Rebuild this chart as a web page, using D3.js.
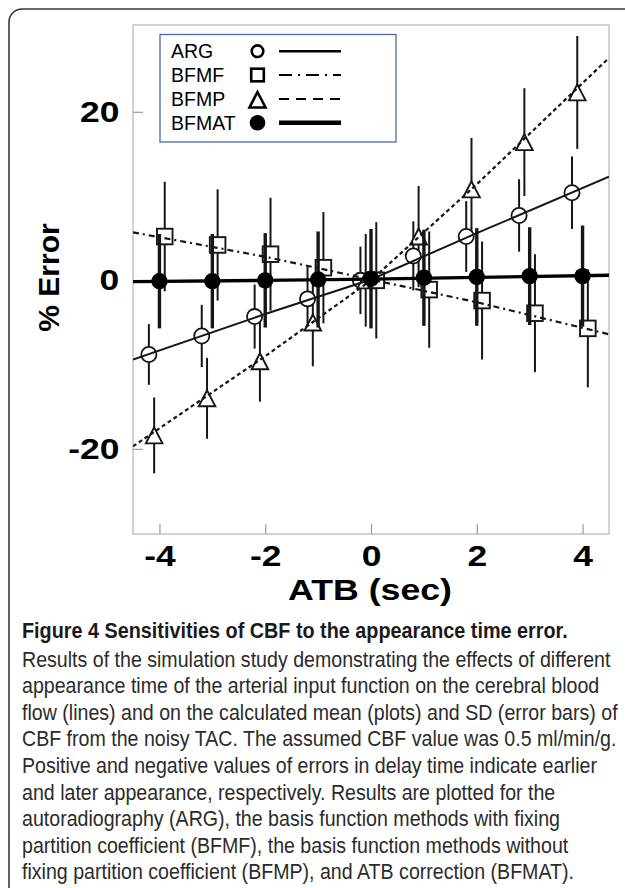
<!DOCTYPE html>
<html><head><meta charset="utf-8">
<script src="https://cdn.jsdelivr.net/npm/d3@7"></script>
<style>body{margin:0;background:#fff}svg{display:block}</style>
</head><body><svg id="c" width="625" height="888"></svg>
<script>
// ---------- data ----------
const xTicks = [-4, -2, 0, 2, 4];
const yTicks = [-20, 0, 20];
const seriesNames = ["ARG", "BFMF", "BFMP", "BFMAT"];

const argX   = [-4.2, -3.2, -2.2, -1.2, -0.2, 0.8, 1.8, 2.8, 3.8];
const argMean = [-8.8, -6.6, -4.3, -2.2, 0.0, 2.9, 5.2, 7.7, 10.4];
const argSD   = [3.6, 3.7, 3.8, 3.8, 4.0, 4.1, 4.2, 4.3, 4.3];

const bfmpX   = [-4.1, -3.1, -2.1, -1.1, -0.1, 0.9, 1.9, 2.9, 3.9];
const bfmpMean = [-18.4, -14.0, -9.6, -5.0, 0.0, 5.2, 10.8, 16.4, 22.3];
const bfmpSD   = [4.5, 4.8, 4.8, 5.2, 5.5, 6.0, 6.1, 6.4, 6.7];

const bfmfX   = [-3.9, -2.9, -1.9, -0.9, 0.1, 1.1, 2.1, 3.1, 4.1];
const bfmfMean = [5.2, 4.2, 3.1, 1.5, 0.0, -1.1, -2.4, -3.9, -5.7];
const bfmfSD   = [6.5, 6.6, 6.7, 6.6, 6.9, 6.9, 7.0, 7.0, 7.0];

const bfmatX   = [-4, -3, -2, -1, 0, 1, 2, 3, 4];
const bfmatMean = [-0.1, -0.1, 0.0, 0.1, 0.2, 0.3, 0.4, 0.5, 0.5];
const bfmatSD   = [5.6, 5.6, 5.6, 5.7, 5.9, 5.7, 5.8, 5.8, 6.0];

// noise-free curves (lines)
const lineX     = [-4.5, -2, 0, 2, 4.5];
const argLine   = [-9.4, -4.0, 0.1, 5.6, 12.3];
const bfmpLine  = [-19.7, -9.0, 0.0, 11.4, 26.4];
const bfmfLine  = [5.7, 2.8, 0.1, -2.6, -6.4];
const bfmatLine = [-0.15, 0.0, 0.15, 0.35, 0.6];

const xTitle = "ATB (sec)";
const yTitle = "% Error";
const captionTitle = "Figure 4 Sensitivities of CBF to the appearance time error.";
const captionLines = [
  "Results of the simulation study demonstrating the effects of different",
  "appearance time of the arterial input function on the cerebral blood",
  "flow (lines) and on the calculated mean (plots) and SD (error bars) of",
  "CBF from the noisy TAC. The assumed CBF value was 0.5 ml/min/g.",
  "Positive and negative values of errors in delay time indicate earlier",
  "and later appearance, respectively. Results are plotted for the",
  "autoradiography (ARG), the basis function methods with fixing",
  "partition coefficient (BFMF), the basis function methods without",
  "fixing partition coefficient (BFMP), and ATB correction (BFMAT)."
];

// ---------- drawing ----------
const svg = d3.select("#c");
const BOLD = "'Liberation Sans', Arial, Helvetica, sans-serif";

// outer rounded panel border
svg.append("rect").attr("x", 9).attr("y", 9).attr("width", 720).attr("height", 1000)
  .attr("rx", 13).attr("fill", "none").attr("stroke", "#3a3a3a").attr("stroke-width", 1.6);

const M = {l: 133, r: 609, t: 25, b: 534};
const x = d3.scaleLinear().domain([-4.5, 4.5]).range([M.l, M.r]);
const y = d3.scaleLinear().domain([-30.1, 30.3]).range([M.b, M.t]);

svg.append("defs").append("clipPath").attr("id", "pc")
  .append("rect").attr("x", M.l).attr("y", M.t).attr("width", M.r - M.l).attr("height", M.b - M.t);

// frame
svg.append("rect").attr("x", M.l).attr("y", M.t).attr("width", M.r - M.l).attr("height", M.b - M.t)
  .attr("fill", "none").attr("stroke", "#c4c4c4").attr("stroke-width", 1.5);

// axes
const SX = 1.18;
const gx = svg.append("g").attr("transform", `translate(0,${M.b})`)
  .call(d3.axisBottom(x).tickValues(xTicks).tickFormat(d => String(d))
    .tickSizeInner(-10).tickSizeOuter(0).tickPadding(11));
gx.select(".domain").remove();
gx.selectAll(".tick line").attr("stroke", "#9a9a9a").attr("stroke-width", 1.2);
gx.selectAll(".tick text").attr("font-family", BOLD).attr("font-weight", "bold")
  .attr("font-size", 30).attr("fill", "#000").attr("transform", `scale(${SX},1)`);

const gy = svg.append("g").attr("transform", `translate(${M.l},0)`)
  .call(d3.axisLeft(y).tickValues(yTicks).tickFormat(d => String(d))
    .tickSizeInner(-10).tickSizeOuter(0).tickPadding(14));
gy.select(".domain").remove();
gy.selectAll(".tick line").attr("stroke", "#9a9a9a").attr("stroke-width", 1.2);
gy.selectAll(".tick text").attr("font-family", BOLD).attr("font-weight", "bold")
  .attr("font-size", 30).attr("fill", "#000").attr("x", -13.7 / SX)
  .attr("transform", `scale(${SX},1)`);

// axis titles
svg.append("g").attr("transform", "translate(370,599.5)")
  .append("text").attr("transform", "scale(1.19,1)").attr("text-anchor", "middle")
  .attr("font-family", BOLD).attr("font-weight", "bold").attr("font-size", 30).text(xTitle);
svg.append("text").attr("transform", "translate(59,277.5) rotate(-90)").attr("text-anchor", "middle")
  .attr("font-family", BOLD).attr("font-weight", "bold").attr("font-size", 30).text(yTitle);

// plot content
const plot = svg.append("g").attr("clip-path", "url(#pc)");
const INK = "#161616";

function errBars(xs, ms, sds, w) {
  plot.append("g").selectAll("line").data(ms).join("line")
    .attr("x1", (d, i) => x(xs[i])).attr("x2", (d, i) => x(xs[i]))
    .attr("y1", (d, i) => y(d - sds[i])).attr("y2", (d, i) => y(d + sds[i]))
    .attr("stroke", INK).attr("stroke-width", w);
}
errBars(argX, argMean, argSD, 2);
errBars(bfmpX, bfmpMean, bfmpSD, 2);
errBars(bfmfX, bfmfMean, bfmfSD, 2);

// open markers
plot.append("g").selectAll("circle").data(argMean).join("circle")
  .attr("cx", (d, i) => x(argX[i])).attr("cy", d => y(d)).attr("r", 7.6)
  .attr("fill", "#fff").attr("stroke", INK).attr("stroke-width", 1.8);
plot.append("g").selectAll("path").data(bfmpMean).join("path")
  .attr("transform", (d, i) => `translate(${x(bfmpX[i])},${y(d)})`)
  .attr("d", "M0,-8L8.3,8L-8.3,8Z")
  .attr("fill", "#fff").attr("stroke", INK).attr("stroke-width", 1.9).attr("stroke-linejoin", "miter");
plot.append("g").selectAll("rect").data(bfmfMean).join("rect")
  .attr("x", (d, i) => x(bfmfX[i]) - 7.8).attr("y", d => y(d) - 7.8)
  .attr("width", 15.6).attr("height", 15.6)
  .attr("fill", "#fff").attr("stroke", INK).attr("stroke-width", 1.9);

// lines
const lineGen = d3.line().x((d, i) => x(lineX[i])).y(d => y(d));
plot.append("path").datum(argLine).attr("d", lineGen).attr("fill", "none")
  .attr("stroke", INK).attr("stroke-width", 2);
plot.append("path").datum(bfmpLine).attr("d", lineGen).attr("fill", "none")
  .attr("stroke", INK).attr("stroke-width", 2.2).attr("stroke-dasharray", "4,3");
plot.append("path").datum(bfmfLine).attr("d", lineGen).attr("fill", "none")
  .attr("stroke", INK).attr("stroke-width", 2.2).attr("stroke-dasharray", "6,4,2,4");
plot.append("path").datum(bfmatLine).attr("d", lineGen).attr("fill", "none")
  .attr("stroke", "#000").attr("stroke-width", 3.4);

// BFMAT on top
errBars(bfmatX, bfmatMean, bfmatSD, 3.4);
plot.append("g").selectAll("circle").data(bfmatMean).join("circle")
  .attr("cx", (d, i) => x(bfmatX[i])).attr("cy", d => y(d)).attr("r", 8.2)
  .attr("fill", "#000");

// legend
const lg = svg.append("g");
lg.append("rect").attr("x", 160).attr("y", 34.5).attr("width", 236).attr("height", 107.5)
  .attr("fill", "#fff").attr("stroke", "#4a6aa5").attr("stroke-width", 1.3);
const rowY = [51.2, 75, 99, 122.8];
lg.selectAll("text").data(seriesNames).join("text")
  .attr("x", 171).attr("y", (d, i) => rowY[i] + 7)
  .attr("font-family", BOLD).attr("font-size", 19.5).attr("fill", "#000").text(d => d);
const mx = 257.5;
lg.append("circle").attr("cx", mx).attr("cy", rowY[0]).attr("r", 5.8)
  .attr("fill", "none").attr("stroke", "#000").attr("stroke-width", 2.6);
lg.append("rect").attr("x", mx - 6.3).attr("y", rowY[1] - 6.3).attr("width", 12.6).attr("height", 12.6)
  .attr("fill", "none").attr("stroke", "#000").attr("stroke-width", 2.6);
lg.append("path").attr("transform", `translate(${mx},${rowY[2] + 1})`).attr("d", "M0,-8L8,7.5L-8,7.5Z")
  .attr("fill", "none").attr("stroke", "#000").attr("stroke-width", 2.6);
lg.append("circle").attr("cx", mx).attr("cy", rowY[3]).attr("r", 7.8).attr("fill", "#000");
const lx1 = 279, lx2 = 341;
const legStyles = [
  {w: 2.4, dash: null}, {w: 2.2, dash: "13,6,2,6"}, {w: 2.2, dash: "10,7"}, {w: 4.6, dash: null}
];
legStyles.forEach((s, i) => {
  const l = lg.append("line").attr("x1", lx1).attr("x2", lx2).attr("y1", rowY[i]).attr("y2", rowY[i])
    .attr("stroke", "#000").attr("stroke-width", s.w);
  if (s.dash) l.attr("stroke-dasharray", s.dash);
});

// caption (condensed look: sans scaled horizontally to the reference line widths)
const CAP = "'Liberation Sans', Arial, sans-serif";
const cx0 = 22;
const titleG = svg.append("g").attr("transform", `translate(${cx0},638.3)`);
const tt = titleG.append("text").attr("x", 0).attr("y", 0).attr("font-family", CAP)
  .attr("font-weight", "bold").attr("font-size", 22).attr("fill", "#1a1a1a").text(captionTitle);
const tw = tt.node().getComputedTextLength();
titleG.attr("transform", `translate(${cx0},638.3) scale(${546 / tw},1)`);

const base1 = 666.7, lh = 26.6;
const targets = [596, 591, 594, 582, 574, 528, 540, 553, 543];
const capG = svg.append("g").attr("transform", `translate(${cx0},0)`);
const capText = capG.append("g").attr("font-family", CAP).attr("font-size", 22).attr("fill", "#2b2b2b");
const nodes = captionLines.map((t, i) => capText.append("text").attr("x", 0)
  .attr("y", base1 + lh * i).text(t));
let meas = 0; nodes.forEach(n => meas += n.node().getComputedTextLength());
const sc = d3.sum(targets) / meas;
capG.attr("transform", `translate(${cx0},0) scale(${sc},1)`);
</script></body></html>
